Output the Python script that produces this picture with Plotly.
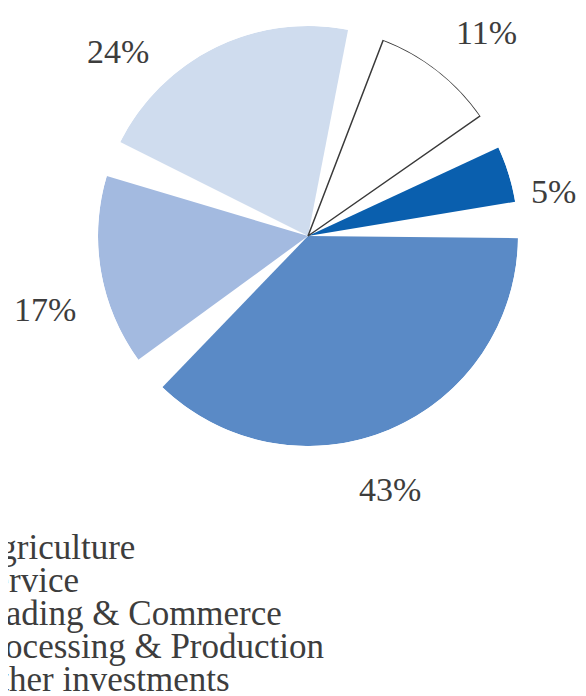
import math
import plotly.graph_objects as go

# ---- data ----
categories = ["Agriculture", "Service", "Trading & Commerce",
              "Processing & Production", "Other investments"]
shares = [5, 43, 17, 24, 11]          # percent
pct_labels = ["5%", "43%", "17%", "24%", "11%"]

# ---- style ----
fill_colors = ["#0a5fae", "#5a8ac6", "#a3bae0", "#cfdcee", "#ffffff"]
line_colors = ["#0a5fae", "#5a8ac6", "#a3bae0", "#cfdcee", "#3a3a3a"]
line_widths = [0, 0, 0, 0, 1.5]
draw_order = [4, 0, 1, 2, 3]          # clockwise from the top
start_angle = 69.0                    # degrees, counter-clockwise from east
gap = 10.0                            # angular gap between slices
label_nudge = [-7.0, -4.85, 5.95, 19.7, -3.2]
label_radius = [1.19, 1.27, 1.30, 1.26, 1.29]
text_color = "#3d3d3d"
serif = "Liberation Serif, Times New Roman, serif"

total = sum(shares)
avail = 360.0 - gap * len(shares)
centers = [0.0] * len(shares)
widths = [0.0] * len(shares)
a = start_angle
for i in draw_order:
    w = shares[i] / total * avail
    widths[i] = w
    centers[i] = a - w / 2
    a -= w + gap

fig = go.Figure()
fig.add_trace(go.Barpolar(
    r=[1] * len(shares),
    theta=centers,
    width=widths,
    base=0,
    marker=dict(color=fill_colors,
                line=dict(color=line_colors, width=line_widths)),
    text=categories,
    hoverinfo="text",
    showlegend=False,
))

W, H = 586, 696
# the page body adds an 8px margin, so positions are shifted back by 8px
cx, cy, R = 300, 228, 210
fig.update_layout(
    width=W, height=H,
    margin=dict(l=0, r=0, t=0, b=0, autoexpand=False),
    paper_bgcolor="white",
    plot_bgcolor="white",
    polar=dict(
        domain=dict(x=[(cx - R) / W, (cx + R) / W],
                    y=[1 - (cy + R) / H, 1 - (cy - R) / H]),
        bgcolor="rgba(0,0,0,0)",
        radialaxis=dict(range=[0, 1], visible=False, showgrid=False),
        angularaxis=dict(visible=False, showgrid=False, rotation=0,
                         direction="counterclockwise"),
        bargap=0,
    ),
)

# percentage labels just outside each slice
for i, lab in enumerate(pct_labels):
    ang = math.radians(centers[i] + label_nudge[i])
    px = cx + label_radius[i] * R * math.cos(ang)
    py = cy - label_radius[i] * R * math.sin(ang)
    fig.add_annotation(
        text=lab, xref="paper", yref="paper",
        x=px / W, y=1 - py / H, xanchor="center", yanchor="middle",
        showarrow=False,
        font=dict(family=serif, size=34, color=text_color),
    )

# legend text, left part runs off the page as in the original
line_step = 33
first_mid = 539
for k, name in enumerate(categories):
    fig.add_annotation(
        text=name, xref="paper", yref="paper",
        x=-36 / W, y=1 - (first_mid + k * line_step) / H,
        xanchor="left", yanchor="middle", showarrow=False,
        font=dict(family=serif, size=35, color=text_color),
    )

fig.write_html("out.html")
